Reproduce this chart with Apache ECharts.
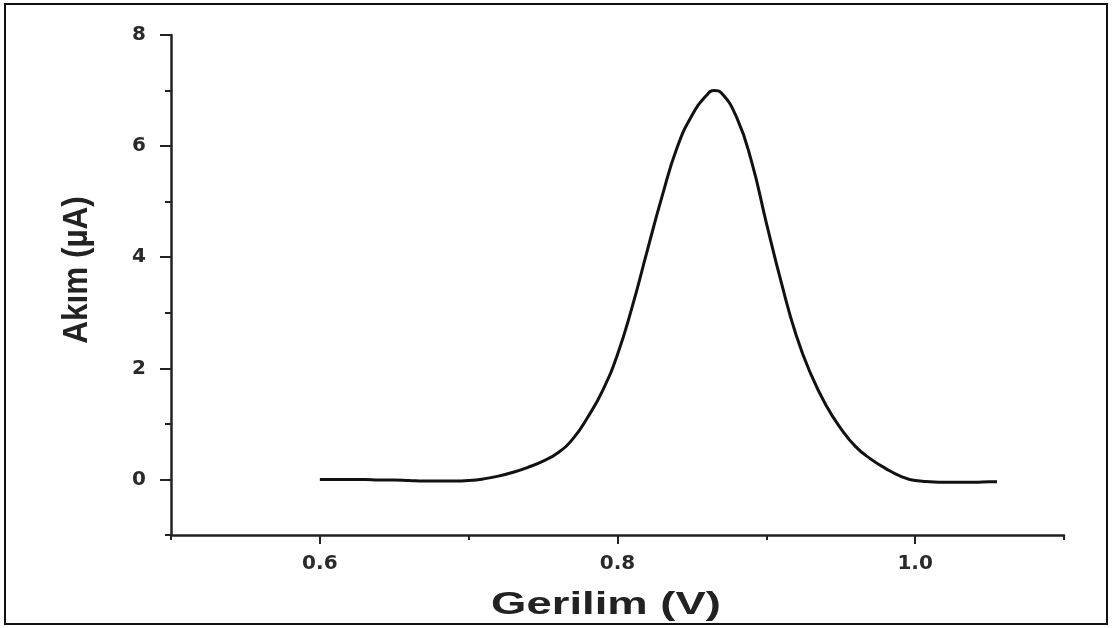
<!DOCTYPE html>
<html>
<head>
<meta charset="utf-8">
<script src="https://cdn.jsdelivr.net/npm/echarts@6/dist/echarts.min.js"></script>
<style>
  html, body { margin: 0; padding: 0; background: #fff; }
  #chart { width: 1112px; height: 628px; }
</style>
</head>
<body>
<div id="chart"></div>
<script>
// Differential pulse voltammogram: current vs. applied potential
const voltages = [0.60, 0.61, 0.62, 0.63, 0.64, 0.65, 0.66, 0.67, 0.68, 0.69,
                  0.70, 0.71, 0.72, 0.73, 0.74, 0.75, 0.76, 0.77, 0.78, 0.79,
                  0.80, 0.81, 0.82, 0.83, 0.84, 0.85, 0.86, 0.865, 0.87, 0.88,
                  0.89, 0.90, 0.91, 0.92, 0.93, 0.94, 0.95, 0.96, 0.97, 0.98,
                  0.99, 1.00, 1.01, 1.02, 1.03, 1.04, 1.05, 1.055];
const currents = [0.00, 0.00, 0.00, 0.00, -0.01, -0.01, -0.02, -0.03, -0.03, -0.03,
                  -0.02, 0.01, 0.06, 0.13, 0.22, 0.33, 0.48, 0.73, 1.12, 1.60,
                  2.25, 3.12, 4.12, 5.10, 5.97, 6.55, 6.92, 7.00, 6.95, 6.52,
                  5.73, 4.62, 3.55, 2.60, 1.89, 1.34, 0.92, 0.59, 0.37, 0.20,
                  0.06, -0.02, -0.04, -0.05, -0.05, -0.05, -0.04, -0.04];

// labelled (major) and unlabelled (minor) tick positions
const xMajorTicks = [0.6, 0.8, 1.0];
const xMinorTicks = [0.5, 0.7, 0.9, 1.1];
const yMajorTicks = [0, 2, 4, 6, 8];
const yMinorTicks = [-1, 1, 3, 5, 7];

const xTitle = 'Gerilim (V)';
const yTitle = 'Akım (µA)';

const points = voltages.map((v, i) => [v, currents[i]]);

const axisColor = '#222';
const tickFont = { color: '#2a2a2a', fontWeight: 'bold', fontSize: 20, fontFamily: 'DejaVu Sans, Liberation Sans, sans-serif' };

const chart = echarts.init(document.getElementById('chart'), null, { renderer: 'canvas' });

const gridLeft = 171, gridRight = 48, gridTop = 35, gridBottom = 93;

chart.setOption({
  backgroundColor: '#fff',
  animation: false,
  grid: { left: gridLeft, right: gridRight, top: gridTop, bottom: gridBottom },
  graphic: [
    {
      type: 'rect',
      shape: { x: 5, y: 4, width: 1102, height: 620 },
      style: { fill: 'none', stroke: '#111', lineWidth: 2 },
      silent: true
    },
    {
      // x-axis title, set wide
      type: 'text',
      x: 606, y: 605,
      scaleX: 1.42,
      style: {
        text: xTitle,
        fill: '#222',
        font: 'bold 32px "Liberation Sans", Arial, sans-serif',
        align: 'center',
        verticalAlign: 'middle'
      },
      silent: true
    },
    {
      // y-axis title, vertical and slightly condensed
      type: 'text',
      x: 77, y: 270,
      rotation: Math.PI / 2,
      scaleX: 0.9,
      style: {
        text: yTitle,
        fill: '#222',
        font: 'bold 35px "Liberation Sans", Arial, sans-serif',
        align: 'center',
        verticalAlign: 'middle'
      },
      silent: true
    }
  ],
  xAxis: [
    {
      type: 'value',
      min: 0.5, max: 1.1, interval: 0.1,
      axisLine: { onZero: false, lineStyle: { color: axisColor, width: 2.5 } },
      axisTick: { inside: false, length: 9, customValues: xMajorTicks, lineStyle: { color: axisColor, width: 2 } },
      splitLine: { show: false },
      axisLabel: Object.assign({}, tickFont, {
        margin: 19,
        customValues: xMajorTicks,
        formatter: v => v.toFixed(1)
      })
    },
    {
      type: 'value',
      position: 'bottom',
      min: 0.5, max: 1.1, interval: 0.1,
      axisLine: { show: false, onZero: false },
      axisTick: { inside: false, length: 5, customValues: xMinorTicks, lineStyle: { color: axisColor, width: 2 } },
      splitLine: { show: false },
      axisLabel: { show: false }
    }
  ],
  yAxis: [
    {
      type: 'value',
      min: -1, max: 8, interval: 1,
      axisLine: { onZero: false, lineStyle: { color: axisColor, width: 2.5 } },
      axisTick: { inside: false, length: 11, customValues: yMajorTicks, lineStyle: { color: axisColor, width: 2 } },
      splitLine: { show: false },
      axisLabel: Object.assign({}, tickFont, {
        margin: 25,
        customValues: yMajorTicks,
        formatter: v => String(v)
      })
    },
    {
      type: 'value',
      position: 'left',
      min: -1, max: 8, interval: 1,
      axisLine: { show: false, onZero: false },
      axisTick: { inside: false, length: 6, customValues: yMinorTicks, lineStyle: { color: axisColor, width: 2 } },
      splitLine: { show: false },
      axisLabel: { show: false }
    }
  ],
  series: [{
    type: 'line',
    xAxisIndex: 0,
    yAxisIndex: 0,
    data: points,
    smooth: 0.5,
    showSymbol: false,
    lineStyle: { color: '#111', width: 3 },
    clip: false
  }]
});
</script>
</body>
</html>
